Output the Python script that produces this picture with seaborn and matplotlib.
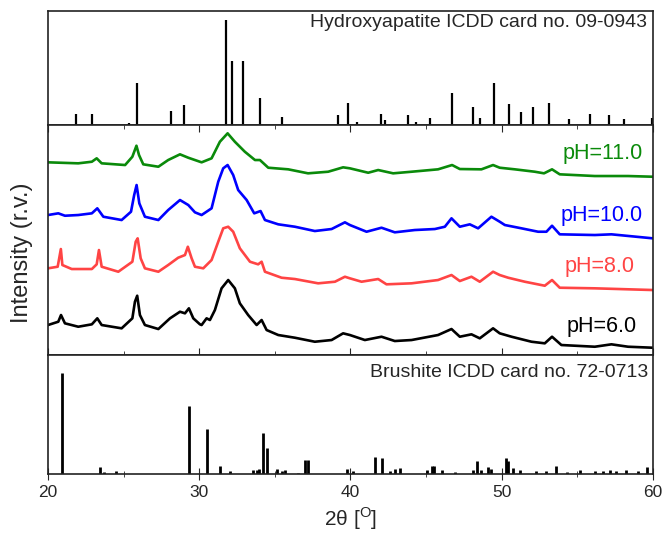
import matplotlib
matplotlib.use("Agg")
import pandas as pd
import matplotlib.pyplot as plt
import seaborn as sns
from matplotlib.ticker import MultipleLocator

# -------------------- reference patterns (stick lines) --------------------
ha_pos = [21.82, 22.90, 25.38, 25.88, 28.13, 28.97, 31.77, 32.20, 32.90, 34.05,
          35.48, 39.20, 39.82, 40.45, 42.03, 42.30, 43.80, 44.37, 45.30, 46.71,
          48.10, 48.60, 49.47, 50.49, 51.28, 52.10, 53.14, 54.44, 55.88, 57.13,
          58.07, 59.94]
ha_int = [11, 11, 2.5, 40.6, 13.7, 19.7, 100, 61, 61, 26,
          8, 9.5, 21, 3, 11, 5, 9.5, 3, 7, 31,
          17, 7, 40.6, 20.6, 13, 17, 21, 6, 11, 9.5,
          6, 7]

br_pos = [20.95, 23.44, 23.70, 24.50, 29.30, 30.55, 31.37, 32.03, 33.57, 33.80,
          33.95, 34.19, 34.46, 35.12, 35.50, 35.70, 36.55, 36.99, 37.20, 39.75,
          40.15, 41.62, 42.10, 42.60, 42.94, 43.27, 45.04, 45.37, 45.52, 46.03,
          46.90, 48.12, 48.38, 48.67, 49.11, 49.33, 50.30, 50.44, 50.77, 51.20,
          52.31, 52.97, 53.63, 54.30, 55.17, 56.17, 56.70, 57.16, 57.55, 58.26,
          59.03, 59.62]
br_int = [100, 7, 1.6, 2.6, 67.5, 44.6, 8, 2.6, 3.6, 4.3,
          5, 41, 26, 5, 3.3, 3.6, 1.3, 14, 13.4, 5,
          2.6, 16.7, 15.7, 3.3, 5, 6, 3.6, 7.5, 8, 3.6,
          1.6, 3.6, 12.5, 3.6, 7, 5, 15.7, 12.5, 6, 3.6,
          2.6, 2.6, 8, 1.6, 3.6, 2.6, 2.6, 3.6, 2.6, 3.6,
          2.6, 7]

# -------------------- measured XRD curves (offset, arbitrary units) --------------------
ph11_x = [20.0, 22.0, 22.9, 23.22, 23.55, 25.1, 25.58, 25.85, 26.02, 26.3,
          27.3, 27.95, 28.73, 29.28, 29.72, 30.16, 30.82, 31.37, 31.88, 32.36,
          33.02, 33.69, 34.02, 34.57, 35.89, 37.2, 38.53, 39.52, 39.97, 41.18,
          41.84, 42.83, 44.05, 45.8, 46.73, 47.24, 48.67, 49.44, 49.88, 50.88,
          52.2, 52.81, 53.34, 53.85, 56.17, 58.37, 60.0]
ph11_y = [192.7, 191.7, 193.3, 196.7, 191.7, 190, 198.3, 209.3, 200, 190.7,
          188.3, 195, 200.7, 197.3, 195, 192.7, 196.7, 213.3, 221.7, 213.3,
          203.3, 195, 195, 187.3, 185.7, 181.7, 183.3, 187.7, 186.7, 182.3,
          185, 181.7, 183.3, 185.7, 190, 186, 185.7, 190, 187.3, 185.7,
          183.3, 181.7, 185.7, 180.7, 179, 179, 178.3]

ph10_x = [20.0, 20.68, 21.12, 22.0, 22.9, 23.26, 23.66, 24.87, 25.49, 25.7,
          25.86, 26.04, 26.41, 27.3, 27.95, 28.73, 29.28, 29.72, 30.16, 30.82,
          31.26, 31.59, 31.88, 32.25, 32.58, 33.14, 33.64, 34.06, 34.35, 35.23,
          36.33, 37.65, 38.76, 39.64, 39.97, 41.07, 42.06, 42.94, 44.26, 45.59,
          46.25, 46.69, 47.24, 47.9, 48.45, 49.33, 49.88, 50.22, 51.32, 52.42,
          52.97, 53.34, 53.85, 56.17, 57.27, 60.0]
ph10_y = [140, 141.7, 139.3, 140, 141.7, 146.7, 138.3, 135, 143.3, 160,
          170, 151.7, 138.3, 135, 145, 155, 150, 142.7, 140, 146.7,
          173.3, 186.7, 190, 180, 165, 155, 141.7, 144, 135, 130.7,
          128.3, 124, 126, 132.7, 130, 123.3, 127.3, 122.7, 125, 126,
          128.3, 136.7, 128.3, 130.7, 126.7, 138.3, 133.3, 130, 126.7, 123.3,
          123.3, 129.3, 120.7, 120, 120.7, 116.7]

ph8_x = [20.0, 20.64, 20.85, 20.95, 21.57, 22.9, 23.22, 23.37, 23.55, 24.65,
         25.58, 25.8, 25.93, 26.13, 26.41, 27.3, 27.95, 28.61, 29.06, 29.25,
         29.5, 29.72, 30.27, 30.82, 31.26, 31.59, 31.92, 32.25, 32.69, 33.36,
         33.9, 34.13, 34.35, 35.45, 36.33, 37.87, 38.98, 39.64, 39.97, 40.74,
         41.84, 42.39, 44.05, 45.8, 46.69, 47.24, 48.01, 48.56, 49.44, 49.88,
         50.44, 51.54, 52.86, 53.34, 53.85, 56.17, 60.0]
ph8_y = [86.7, 88.3, 106, 90, 86, 86, 90.7, 105, 88.3, 83.3,
         93.3, 113.3, 116.7, 96.7, 86.7, 83.3, 90, 97.3, 100, 108.3,
         96.7, 88.3, 86.7, 95, 113.3, 126.7, 128.3, 123.3, 106.7, 93.3,
         90.7, 93.3, 83.3, 77.3, 76, 71.7, 73.3, 78.3, 76.7, 73.3,
         76, 70.7, 71.7, 75, 80, 74, 78.3, 73.3, 83.3, 80,
         77.3, 73.3, 69.3, 75, 67.3, 66.7, 65]

ph6_x = [20.0, 20.68, 20.86, 21.12, 22.0, 22.9, 23.26, 23.55, 24.87, 25.58,
         25.75, 25.9, 26.08, 26.41, 27.3, 28.07, 28.73, 29.06, 29.32, 29.61,
         30.05, 30.16, 30.49, 30.71, 31.04, 31.48, 31.92, 32.36, 32.69, 33.24,
         33.8, 34.13, 34.46, 35.23, 36.33, 37.65, 38.76, 39.52, 39.97, 40.96,
         42.06, 42.94, 44.05, 45.8, 46.69, 47.24, 48.01, 48.56, 49.44, 49.88,
         50.66, 51.98, 52.86, 53.34, 53.96, 56.17, 57.27, 58.37, 60.0]
ph6_y = [30, 33.3, 40, 31.7, 28.3, 30.7, 36.7, 30, 26.7, 36.7,
         53.3, 59.3, 40, 30, 26, 36.7, 43.3, 41.7, 46.7, 36.7,
         30.7, 30, 36.7, 35, 45, 66.7, 75, 66.7, 51.7, 40,
         30, 35, 25, 20, 17.3, 13.3, 15, 21.7, 20, 15,
         18.3, 14, 15, 20, 26, 18.3, 20.7, 16.7, 26.7, 21.7,
         18.3, 13.3, 11.7, 18.3, 10, 8.3, 10.7, 8.3, 7.3]

samples = ["pH=11.0", "pH=10.0", "pH=8.0", "pH=6.0"]
colors = ["#0a8a0a", "#0000ff", "#ff4444", "#000000"]
label_x = [59.35, 59.35, 58.8, 58.95]
label_y = [201.7, 140, 88.3, 28.3]

df = pd.concat([
    pd.DataFrame({"two_theta": ph11_x, "intensity": ph11_y, "sample": samples[0]}),
    pd.DataFrame({"two_theta": ph10_x, "intensity": ph10_y, "sample": samples[1]}),
    pd.DataFrame({"two_theta": ph8_x, "intensity": ph8_y, "sample": samples[2]}),
    pd.DataFrame({"two_theta": ph6_x, "intensity": ph6_y, "sample": samples[3]}),
], ignore_index=True)

sns.set_style("white")
plt.rcParams["font.family"] = ["Liberation Sans", "DejaVu Sans"]
plt.rcParams["mathtext.fontset"] = "custom"
plt.rcParams["mathtext.rm"] = "Liberation Sans"

fig = plt.figure(figsize=(6.64, 5.35), dpi=100)
left, width = 0.0723, 0.9107
ax_top = fig.add_axes([left, 0.766, width, 0.213])
ax_mid = fig.add_axes([left, 0.3364, width, 0.4299])
ax_bot = fig.add_axes([left, 0.114, width, 0.2224])

# top: hydroxyapatite card
ax_top.vlines(ha_pos, 0, ha_int, color="black", lw=1.6)
ax_top.set_ylim(0, 108.6)
ax_top.text(0.99, 0.90, "Hydroxyapatite ICDD card no. 09-0943",
            transform=ax_top.transAxes, ha="right", va="center", fontsize=14)

# middle: measured patterns
sns.lineplot(data=df, x="two_theta", y="intensity", hue="sample",
             palette=dict(zip(samples, colors)), sort=False, estimator=None,
             lw=1.9, legend=False, ax=ax_mid)
for s, c, lx, ly in zip(samples, colors, label_x, label_y):
    ax_mid.text(lx, ly, s, color=c, ha="right", va="center", fontsize=15.5)
ax_mid.set_ylim(0, 230)
ax_mid.set_xlabel("")
ax_mid.set_ylabel("")

# bottom: brushite card
ax_bot.vlines(br_pos, 0, br_int, color="black", lw=2)
ax_bot.set_ylim(0, 117.8)
ax_bot.text(0.992, 0.85, "Brushite ICDD card no. 72-0713",
            transform=ax_bot.transAxes, ha="right", va="center", fontsize=14)

for ax in (ax_top, ax_mid, ax_bot):
    ax.set_xlim(20, 60)
    ax.set_yticks([])
    ax.xaxis.set_major_locator(MultipleLocator(10))
    ax.xaxis.set_minor_locator(MultipleLocator(5))
    for sp in ax.spines.values():
        sp.set_color("#222222")
        sp.set_linewidth(1.2)

ax_top.tick_params(axis="x", which="both", bottom=False, top=False, labelbottom=False)
ax_mid.tick_params(axis="x", which="both", direction="in", top=True, bottom=True,
                   labelbottom=False)
ax_mid.tick_params(axis="x", which="major", length=5)
ax_mid.tick_params(axis="x", which="minor", length=3)
ax_bot.tick_params(axis="x", which="both", direction="inout", bottom=True, top=False,
                   labelsize=12.5, pad=4)
ax_bot.tick_params(axis="x", which="major", length=8)
ax_bot.tick_params(axis="x", which="minor", length=5)

ax_bot.set_xlabel("2θ [$^{\\mathregular{O}}$]", fontsize=15, labelpad=4)
fig.text(0.033, 0.527, "Intensity (r.v.)", rotation=90, ha="center", va="center",
         fontsize=17)

fig.savefig("out.png", dpi=100)
